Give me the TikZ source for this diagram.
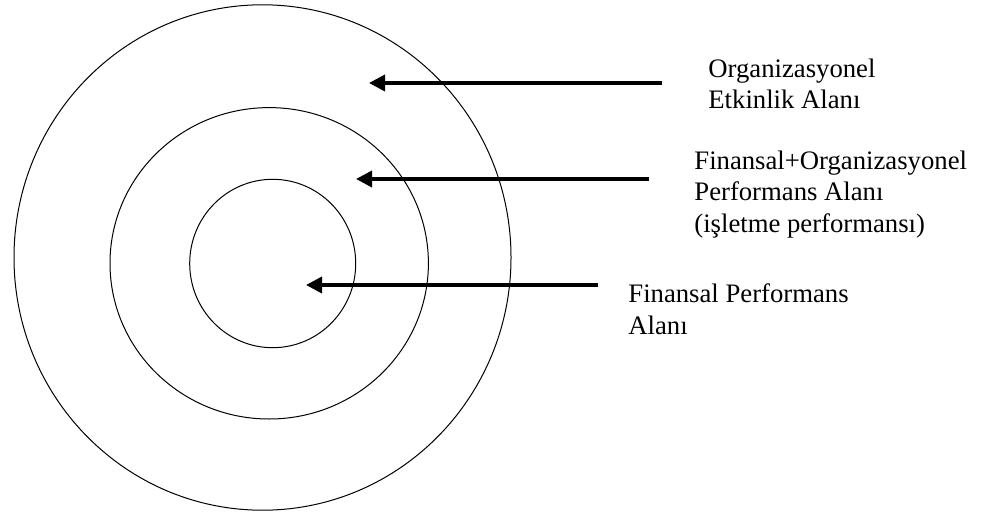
\documentclass[tikz,border=0pt]{standalone}
\usepackage{fontspec}
\setmainfont{Liberation Serif}
\usetikzlibrary{arrows.meta,shapes.geometric}
\begin{document}
\begin{tikzpicture}[x=0.5pt,y=-0.5pt,
  ring/.style={draw, ellipse, line width=0.5pt, inner sep=0pt},
  pointer/.style={line width=1.8pt, -{Triangle[length=8pt,width=8pt]}},
  caption/.style={anchor=base west, inner sep=0pt, align=left,
    font=\fontsize{13.35}{15.75}\selectfont}]
\useasboundingbox (0,0) rectangle (983,513);

% concentric areas
\node[ring, minimum width=248.5pt, minimum height=252.7pt] (outer) at (262.5,257.5) {};
\node[ring, minimum width=159.2pt, minimum height=155.7pt] (middle) at (269.2,263.3) {};
\node[ring, minimum width=83pt, minimum height=84.2pt] (inner) at (272.7,263.5) {};

% arrow end points
\coordinate (s1) at (662,83);  \coordinate (e1) at (369,83);
\coordinate (s2) at (649,179); \coordinate (e2) at (356,179);
\coordinate (s3) at (598,285); \coordinate (e3) at (306,285);

\draw[pointer] (s1) -- (e1);
\draw[pointer] (s2) -- (e2);
\draw[pointer] (s3) -- (e3);

% labels (anchored at the baseline of their last line)
\node[caption] (l1) at (708,109) {Organizasyonel\\Etkinlik Alanı};
\node[caption] (l2) at (694,232) {Finansal+Organizasyonel\\Performans Alanı\\(işletme performansı)};
\node[caption] (l3) at (628,334) {Finansal Performans\\Alanı};
\end{tikzpicture}
\end{document}
